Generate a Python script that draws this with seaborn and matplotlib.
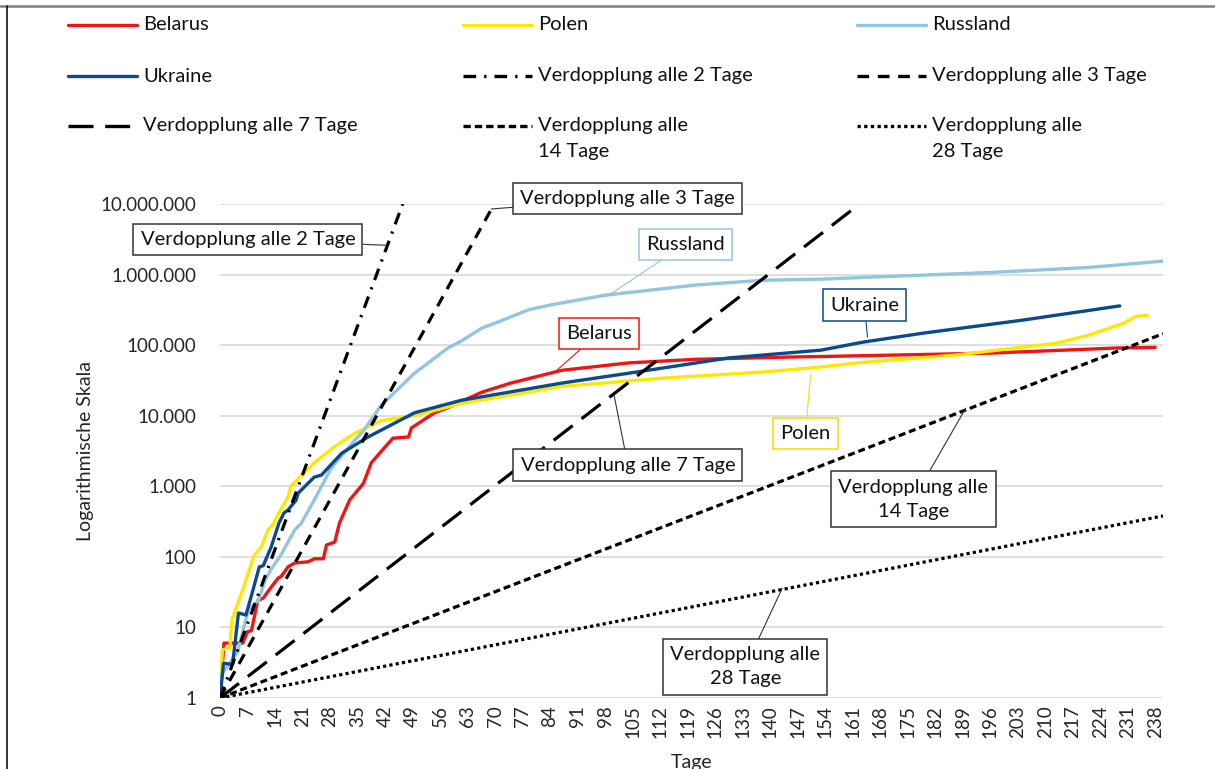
import matplotlib
matplotlib.use("Agg")
import matplotlib.pyplot as plt
import matplotlib.ticker as mticker
from matplotlib.lines import Line2D
import pandas as pd
import seaborn as sns

# Fallzahlen seit Tag 0
belarus_tage = [0, 1, 5.8, 7, 8, 9.6, 11, 13, 14.8, 15.6, 17.3, 19, 22.4, 24, 26.3, 27.1, 29.2, 30.4,
                33, 36.5, 38.5, 42, 44, 46, 48, 48.7, 54.6, 58, 66.6, 74, 87, 104, 121, 146, 153, 196, 228, 238]
belarus_werte = [1, 6, 6, 8.7, 9, 24, 26, 37, 50, 53, 72, 82, 85, 94, 94, 147, 162, 300,
                 640, 1100, 2150, 3600, 4800, 4900, 5000, 6700, 11000, 13000, 21500, 29000, 44000, 56000,
                 63000, 68000, 69000, 77000, 91000, 93000]

polen_tage = [0, 0.6, 1.6, 2.5, 3, 4, 6, 8.7, 10.5, 12.2, 13.5, 15, 17.3, 18, 24, 29, 34.2, 41,
              49.5, 61.5, 66.6, 87, 112.5, 138, 153, 163.5, 187, 213, 221, 230, 233, 236]
polen_werte = [1, 4.8, 5, 5, 12.6, 18, 37, 106, 137, 240, 290, 420, 700, 1000, 2150, 3600, 5600, 8500,
               10000, 15000, 16600, 26000, 34000, 41500, 49000, 57000, 72000, 107000, 138000, 205000,
               255000, 265000]

russland_tage = [0, 4.5, 7.2, 9.8, 11.5, 12.9, 15.5, 19, 20.7, 24, 28.3, 34, 36.3, 41, 49.5, 58, 61.5,
                 66.6, 70, 78.5, 84, 98, 121, 138, 153, 163.5, 196, 221, 240]
russland_werte = [2, 4.5, 18, 24, 47, 65, 106, 240, 300, 640, 1800, 4300, 5900, 14000, 40000, 91000,
                  115000, 174000, 205000, 316000, 370000, 510000, 710000, 830000, 860000, 910000, 1070000,
                  1260000, 1550000]

ukraine_tage = [0, 0.9, 3.2, 4.7, 6.6, 7.9, 10, 11, 13, 15, 16.3, 17.3, 19.4, 19.9, 24, 25.8, 31, 37.7,
                49.5, 61.5, 66.6, 87, 104, 129.6, 153, 163.5, 179, 204, 229]
ukraine_werte = [1, 3.1, 3, 16, 15, 27, 72, 75, 137, 300, 420, 460, 640, 800, 1350, 1440, 2950, 5000,
                 11000, 16600, 18500, 29000, 40000, 66000, 85000, 110000, 148000, 225000, 360000]

# Verdopplungslinien: Start (Tag 0, 1) und Ende
verdopplung_namen = ["Verdopplung alle 2 Tage", "Verdopplung alle 3 Tage", "Verdopplung alle 7 Tage",
                     "Verdopplung alle\n14 Tage", "Verdopplung alle\n28 Tage"]
verdopplung_tage = [[0, 46.5], [0, 69.8], [0, 162.8], [0, 240], [0, 240]]
verdopplung_werte = [[1, 1e7], [1, 1e7], [1, 1e7], [1, 145000], [1, 380]]

x_ticks = list(range(0, 239, 7))
y_ticks = [1, 10, 100, 1000, 10000, 100000, 1000000, 10000000]

sns.set_theme(style="white")
plt.rcParams['font.family'] = ['Lato', 'DejaVu Sans']
plt.rcParams['text.color'] = '#111111'

farben = {"Belarus": "#f01414", "Polen": "#ffe800", "Russland": "#92c5de", "Ukraine": "#0b4a8b"}
stile = [(0, (3.8, 2.4, 0.7, 2.4)), (0, (3.5, 2.6)), (0, (7.5, 3.5)), (0, (2.2, 1.2)), (0, (1, 1))]
fs_text = 14.5

fig = plt.figure(figsize=(12.15, 7.69), dpi=100)
ax = fig.add_axes([220 / 1215, 71 / 769, 943 / 1215, 494 / 769])

laender = [("Belarus", belarus_tage, belarus_werte), ("Polen", polen_tage, polen_werte),
           ("Russland", russland_tage, russland_werte), ("Ukraine", ukraine_tage, ukraine_werte)]
for name, tage, werte in laender:
    df = pd.DataFrame({"Tage": tage, "Fälle": werte})
    sns.lineplot(data=df, x="Tage", y="Fälle", color=farben[name], lw=2.4, ax=ax, zorder=2)

for i, name in enumerate(verdopplung_namen):
    df = pd.DataFrame({"Tage": verdopplung_tage[i], "Fälle": verdopplung_werte[i]})
    sns.lineplot(data=df, x="Tage", y="Fälle", color="black", lw=2.3, linestyle=stile[i], ax=ax, zorder=3)

ax.set_yscale("log")
ax.set_ylim(1, 1e7)
ax.set_xlim(0, 240)
ax.set_yticks(y_ticks)
ax.yaxis.set_minor_locator(mticker.NullLocator())
ax.yaxis.set_major_formatter(mticker.FuncFormatter(lambda v, p: f"{int(round(v)):,}".replace(",", ".")))
ax.set_xticks(x_ticks)
ax.set_xticklabels([str(t) for t in x_ticks], rotation=90)
ax.tick_params(axis="y", length=0, pad=17, labelsize=13.5)
ax.tick_params(axis="x", length=0, pad=5, labelsize=13.5)
ax.grid(axis="y", color="#d9d9d9", lw=1.2)
for s in ax.spines.values():
    s.set_visible(False)

ax.set_xlabel("Tage", fontsize=14)
ax.xaxis.set_label_coords(0.5, -0.13)
ax.xaxis.label.set_va("center")
ax.set_ylabel("Logarithmische Skala", fontsize=14)
ax.yaxis.set_label_coords(-0.143, 0.5)
ax.yaxis.label.set_va("center")

# Beschriftungen mit Kasten
anmerkungen = [
    ("Verdopplung alle 2 Tage", (42.3, 2.6e6), (7.1, 3.16e6), "black"),
    ("Verdopplung alle 3 Tage", (69, 8.5e6), (103.8, 1.2e7), "black"),
    ("Russland", (98.5, 4.9e5), (118.4, 2.7e6), farben["Russland"]),
    ("Belarus", (85.2, 4.15e4), (96.4, 1.48e5), farben["Belarus"]),
    ("Ukraine", (164.8, 1.3e5), (164, 3.7e5), farben["Ukraine"]),
    ("Polen", (150.3, 3.76e4), (149, 5600), "#f5dc00"),
    ("Verdopplung alle 7 Tage", (100.3, 1.95e4), (103.8, 2000), "black"),
    ("Verdopplung alle\n14 Tage", (189.8, 1.28e4), (176.5, 660), "black"),
    ("Verdopplung alle\n28 Tage", (143.1, 36), (133.7, 2.75), "black"),
]
for text, xy, xytext, col in anmerkungen:
    ec = "#333333" if col == "black" else col
    ax.annotate(text, xy=xy, xytext=xytext, textcoords="data", ha="center", va="center",
                fontsize=fs_text, linespacing=1.5, multialignment="center", annotation_clip=False,
                bbox=dict(boxstyle="square,pad=0.35", fc="white", ec=ec, lw=1.1),
                arrowprops=dict(arrowstyle="-", color=ec, lw=0.8, shrinkA=0, shrinkB=0),
                zorder=6)

# Legende oben (3 Spalten)
legende = [
    ("Belarus", farben["Belarus"], "-", 0, 0), ("Polen", farben["Polen"], "-", 1, 0),
    ("Russland", farben["Russland"], "-", 2, 0), ("Ukraine", farben["Ukraine"], "-", 0, 1),
    ("Verdopplung alle 2 Tage", "black", stile[0], 1, 1), ("Verdopplung alle 3 Tage", "black", stile[1], 2, 1),
    ("Verdopplung alle 7 Tage", "black", stile[2], 0, 2), ("Verdopplung alle\n14 Tage", "black", stile[3], 1, 2),
    ("Verdopplung alle\n28 Tage", "black", stile[4], 2, 2),
]
spalten_x = [68, 463, 857]
zeilen_y = [25, 76, 126]
for text, col, ls, sp, ze in legende:
    x0 = spalten_x[sp] / 1215
    y0 = 1 - zeilen_y[ze] / 769
    fig.add_artist(Line2D([x0, x0 + 69 / 1215], [y0, y0], transform=fig.transFigure,
                          color=col, lw=2.4, linestyle=ls))
    for k, zeile in enumerate(text.split("\n")):
        fig.text(x0 + 75 / 1215, y0 - k * 26 / 769, zeile, fontsize=fs_text, ha="left", va="center")

# Rahmen (oben grau, links schwarz)
fig.add_artist(Line2D([0, 1], [1 - 6 / 769, 1 - 6 / 769], transform=fig.transFigure, color="#7f7f7f", lw=1.8))
fig.add_artist(Line2D([7 / 1215, 7 / 1215], [0, 1 - 6 / 769], transform=fig.transFigure, color="black", lw=1.1))

fig.savefig("out.png", dpi=100)
